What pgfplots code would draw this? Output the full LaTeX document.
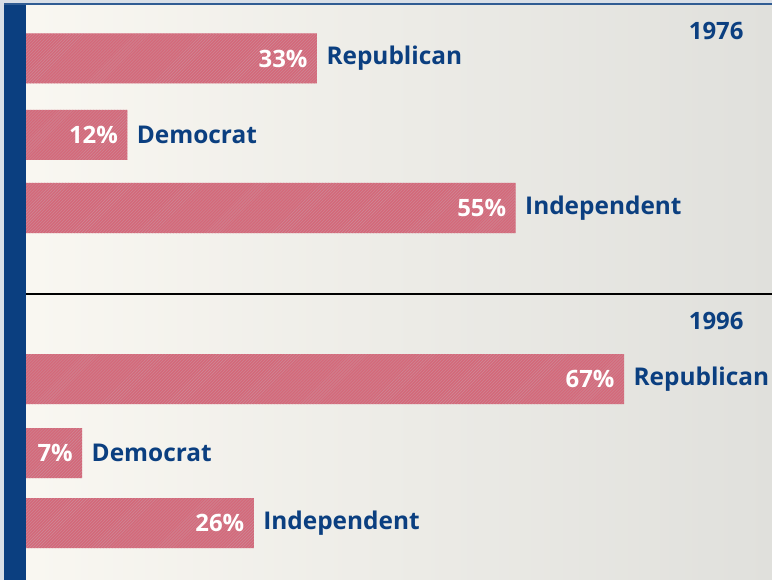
\documentclass[border=0pt]{standalone}
\usepackage{pgfplots}
\pgfplotsset{compat=1.18}
\usepackage{pgfplotstable}
\usepackage{fontspec}
\setmainfont{Open Sans}
\usetikzlibrary{patterns}
\definecolor{nblue}{HTML}{0B3F80}
\definecolor{barred}{HTML}{D4697A}
\definecolor{bardark}{HTML}{AE3C54}
\definecolor{frame}{HTML}{D9DFE7}
\definecolor{bgl}{HTML}{FAF8F2}
\definecolor{bgr}{HTML}{E0E0DC}

\pgfplotstableread{
x y name
33 58.5 Republican
12 135 Democrat
55 208 Independent
67 379 Republican
7 453 Democrat
26 523 Independent
}\data

\begin{document}
\begin{tikzpicture}[x=1bp,y=1bp]
\useasboundingbox (0,0) rectangle (772,580);
\shade[left color=bgl, right color=bgr] (0,0) rectangle (772,580);
\fill[frame] (0,576) rectangle (772,580);
\fill[frame] (0,0) rectangle (4,580);
\fill[nblue!85] (4,575) rectangle (772,576.6);
\begin{axis}[at={(0,0)}, anchor=south west, scale only axis,
  width=772bp, height=580bp,
  xmin=-2.104, xmax=83.39, ymin=0, ymax=580, y dir=reverse,
  hide axis, clip=false, xbar, bar width=50,
  /pgf/bar shift=0pt]
\addplot[draw=none, fill=barred,
  postaction={pattern=north east lines, pattern color=bardark!60},
  point meta=x,
  nodes near coords={\pgfmathprintnumber[assume math mode=true]{\pgfplotspointmeta}\%},
  nodes near coords style={anchor=east, xshift=-6bp, text=white,
    font=\fontsize{24}{26}\selectfont\bfseries}]
  table[x=x, y=y] {\data};
\addplot[draw=none, fill=none,
  point meta=explicit symbolic,
  nodes near coords,
  nodes near coords style={anchor=west, xshift=6bp, text=nblue,
    font=\fontsize{24.5}{27}\selectfont\bfseries}]
  table[x=x, y=y, meta=name] {\data};
\end{axis}
\draw[black, line width=1.3bp] (26,286) -- (772,286);
\fill[nblue] (4,0) rectangle (26,575);
\node[anchor=east, text=nblue, font=\fontsize{24}{26}\selectfont\bfseries] at (747,549) {1976};
\node[anchor=east, text=nblue, font=\fontsize{24}{26}\selectfont\bfseries] at (747,259) {1996};
\end{tikzpicture}
\end{document}
